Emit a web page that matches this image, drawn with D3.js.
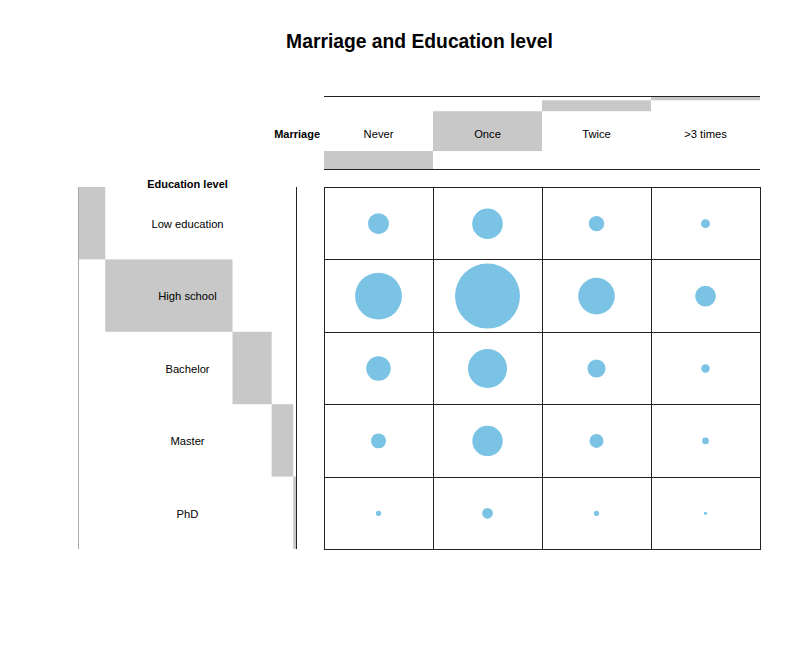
<!DOCTYPE html>
<html>
<head>
<meta charset="utf-8">
<script src="https://cdn.jsdelivr.net/npm/d3@7"></script>
<style>
html,body{margin:0;padding:0;background:#fff;}
text{font-family:"Liberation Sans",Arial,Helvetica,sans-serif;}
</style>
</head>
<body>
<svg id="chart" width="800" height="648"></svg>
<script>
const marriage = ["Never", "Once", "Twice", ">3 times"];
const education = ["Low education", "High school", "Bachelor", "Master", "PhD"];
const lowEducation = [110, 234, 59, 20];
const highSchool = [550, 1060, 336, 108];
const bachelor = [150, 382, 82, 18];
const master = [56, 231, 49, 11];
const phd = [7, 29, 7, 2.5];
const values = [lowEducation, highSchool, bachelor, master, phd];

const svg = d3.select("#chart");
const grid = {x0: 324, x1: 760, y0: 187, y1: 549};
const head = {y0: 97, y1: 169};
const side = {x0: 79, x1: 296};

const x = d3.scaleBand().domain(marriage).range([grid.x0, grid.x1]);
const y = d3.scaleBand().domain(education).range([grid.y0, grid.y1]);
const maxV = d3.max(values.flat());
const r = d3.scaleSqrt().domain([0, maxV]).range([0, 32.5]);

const colSums = marriage.map((m, j) => d3.sum(values, row => row[j]));
const rowSums = values.map(row => d3.sum(row));
const total = d3.sum(rowSums);

// column margin bars (cumulative)
const hScale = d3.scaleLinear().domain([0, total]).range([head.y1, head.y0]);
let cum = 0;
marriage.forEach((m, j) => {
  const a = cum, b = cum + colSums[j];
  cum = b;
  svg.append("rect").attr("x", x(m)).attr("width", x.bandwidth())
    .attr("y", hScale(b)).attr("height", hScale(a) - hScale(b))
    .attr("fill", "#c8c8c8");
});
// row margin bars (cumulative)
const wScale = d3.scaleLinear().domain([0, total]).range([side.x0, side.x1]);
cum = 0;
education.forEach((e, i) => {
  const a = cum, b = cum + rowSums[i];
  cum = b;
  svg.append("rect").attr("y", y(e)).attr("height", y.bandwidth())
    .attr("x", wScale(a)).attr("width", wScale(b) - wScale(a))
    .attr("fill", "#c8c8c8");
});

// header lines
svg.append("line").attr("x1", grid.x0).attr("x2", grid.x1).attr("y1", head.y0 - 0.5).attr("y2", head.y0 - 0.5).attr("stroke", "#222");
svg.append("line").attr("x1", grid.x0).attr("x2", grid.x1).attr("y1", head.y1 + 0.5).attr("y2", head.y1 + 0.5).attr("stroke", "#222");
// side lines
svg.append("line").attr("x1", side.x0 - 0.5).attr("x2", side.x0 - 0.5).attr("y1", grid.y0).attr("y2", grid.y1).attr("stroke", "#aaa");
svg.append("line").attr("x1", side.x1 + 0.5).attr("x2", side.x1 + 0.5).attr("y1", grid.y0).attr("y2", grid.y1).attr("stroke", "#222");

// grid
const gx = marriage.map(m => x(m)).concat([grid.x1]);
const gy = education.map(e => y(e)).concat([grid.y1]);
gx.forEach(v => svg.append("line").attr("x1", Math.round(v) + 0.5).attr("x2", Math.round(v) + 0.5)
  .attr("y1", grid.y0).attr("y2", grid.y1).attr("stroke", "#222"));
gy.forEach(v => svg.append("line").attr("y1", Math.round(v) + 0.5).attr("y2", Math.round(v) + 0.5)
  .attr("x1", grid.x0).attr("x2", grid.x1 + 1).attr("stroke", "#222"));

// balloons
education.forEach((e, i) => {
  marriage.forEach((m, j) => {
    svg.append("circle")
      .attr("cx", x(m) + x.bandwidth() / 2)
      .attr("cy", y(e) + y.bandwidth() / 2 + 0.5)
      .attr("r", r(values[i][j]))
      .attr("fill", "#7ac3e5");
  });
});

// labels
marriage.forEach(m => {
  svg.append("text").attr("x", x(m) + x.bandwidth() / 2).attr("y", 138)
    .attr("text-anchor", "middle").attr("font-size", 11.2).text(m);
});
education.forEach(e => {
  svg.append("text").attr("x", 187.5).attr("y", y(e) + y.bandwidth() / 2 + 4.8)
    .attr("text-anchor", "middle").attr("font-size", 11.2).text(e);
});
svg.append("text").attr("x", 320).attr("y", 138).attr("text-anchor", "end")
  .attr("font-size", 11).attr("font-weight", "bold").text("Marriage");
svg.append("text").attr("x", 187.5).attr("y", 188).attr("text-anchor", "middle")
  .attr("font-size", 11).attr("font-weight", "bold").text("Education level");
svg.append("text").attr("x", 419.5).attr("y", 47.5).attr("text-anchor", "middle")
  .attr("font-size", 19.3).attr("font-weight", "bold").text("Marriage and Education level");
</script>
</body>
</html>
